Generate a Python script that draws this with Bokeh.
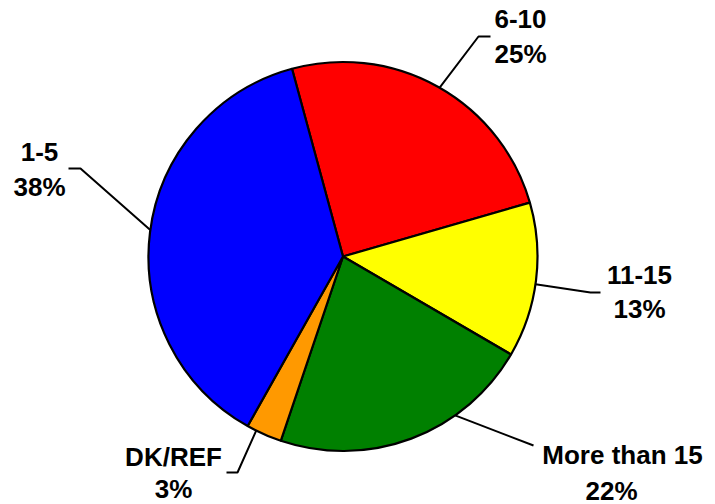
import math

from bokeh.core.properties import value
from bokeh.embed import file_html
from bokeh.models import ColumnDataSource, Range1d
from bokeh.plotting import figure
from bokeh.resources import INLINE

# Years-of-service breakdown, in clockwise order starting near the top
categories = ["6-10", "11-15", "More than 15", "DK/REF", "1-5"]
shares = [25, 13, 22, 3, 38]
colors = ["#FF0000", "#FFFF00", "#008000", "#FF9900", "#0000FF"]

W, H = 715, 504
CX, CY, R = 342.5, 256.0, 194.5   # pie centre and radius (page pixels, y down)
START = -15.2                      # first slice edge, degrees clockwise from 12 o'clock


def up(y):
    """Page y (downwards) -> plot y (upwards)."""
    return H - y


total = float(sum(shares))
edges = [START]
for s in shares:
    edges.append(edges[-1] + 360.0 * s / total)

# Bokeh wedges: angles counter-clockwise from +x, drawn clockwise here
start_ang = [math.radians(90.0 - a) for a in edges[:-1]]
end_ang = [math.radians(90.0 - a) for a in edges[1:]]

src = ColumnDataSource(dict(cat=categories, share=shares, color=colors,
                            start=start_ang, end=end_ang))

p = figure(width=W, height=H, x_range=Range1d(0, W), y_range=Range1d(0, H),
           output_backend="svg", toolbar_location=None, min_border=0)
p.axis.visible = False
p.grid.visible = False
p.outline_line_color = None
p.background_fill_color = "white"
p.border_fill_color = "white"

p.wedge(x=CX, y=up(CY), radius=R, start_angle="start", end_angle="end",
        direction="clock", fill_color="color", line_color="black",
        line_width=2.2, source=src)

# Leader lines: anchor angle on the rim (clockwise from top), then elbow points
leader_anchor = {
    "6-10": 29.8,
    "11-15": 98.2,
    "More than 15": 144.8,
    "DK/REF": 206.5,
    "1-5": 277.8,
}
leader_elbows = {
    "6-10": [(478, 36), (490, 36)],
    "11-15": [(590, 292), (600, 292)],
    "More than 15": [(533, 445)],
    "DK/REF": [(237, 472), (226, 472)],
    "1-5": [(80, 168), (68, 168)],
}
xs, ys = [], []
for cat in categories:
    a = math.radians(leader_anchor[cat])
    px = CX + R * math.sin(a)
    py = CY - R * math.cos(a)
    pts = [(px, py)] + leader_elbows[cat]
    xs.append([q[0] for q in pts])
    ys.append([up(q[1]) for q in pts])
p.multi_line(xs=xs, ys=ys, line_color="black", line_width=2)

# Label placement: (centre x, vertical centre of name, of percentage)
label_pos = {
    "6-10": (520, 18, 53),
    "11-15": (639, 274, 308),
    "More than 15": (622, 454, 490),
    "DK/REF": (173, 456, 488),
    "1-5": (39, 151, 186),
}
pct_x = {"More than 15": 611}

tx, ty, tt = [], [], []
for cat, s in zip(categories, shares):
    x, y1, y2 = label_pos[cat]
    tx += [x, pct_x.get(cat, x)]
    ty += [up(y1), up(y2)]
    tt += [cat, f"{s}%"]

p.text(x=tx, y=ty, text=tt, text_font=value("Liberation Sans"),
       text_font_style="bold", text_font_size="26px", text_color="black",
       text_align="center", text_baseline="middle")

open("out.html", "w").write(file_html(p, INLINE))
